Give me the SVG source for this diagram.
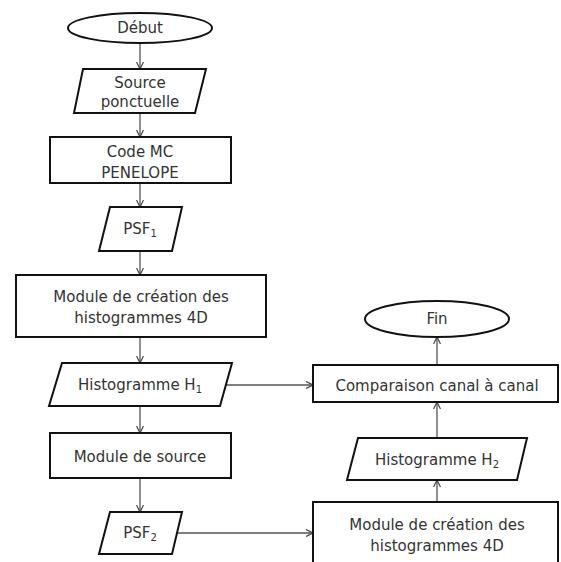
<svg xmlns="http://www.w3.org/2000/svg" width="561" height="562" viewBox="0 0 561 562">
<defs>
<marker id="arr" viewBox="0 0 8 8" refX="7.5" refY="4" markerWidth="8" markerHeight="8" markerUnits="userSpaceOnUse" orient="auto">
<path d="M0.5,0.5 L7.5,4 L0.5,7.5" fill="none" stroke="#444" stroke-width="1.2"/>
</marker>
<style>
.s{fill:#fff;stroke:#111;stroke-width:2}
.t{font-family:"DejaVu Sans","Liberation Sans",sans-serif;font-size:15px;fill:#333;text-anchor:middle}
.c{fill:none;stroke:#555;stroke-width:1.3}
</style>
</defs>
<rect width="561" height="562" fill="#fff"/>
<g id="connectors">
<line class="c" x1="140" y1="43" x2="140" y2="69" marker-end="url(#arr)"/>
<line class="c" x1="140" y1="113" x2="140" y2="137" marker-end="url(#arr)"/>
<line class="c" x1="140" y1="183" x2="140" y2="207" marker-end="url(#arr)"/>
<line class="c" x1="140" y1="251" x2="140" y2="275" marker-end="url(#arr)"/>
<line class="c" x1="140" y1="337" x2="140" y2="363" marker-end="url(#arr)"/>
<line class="c" x1="140" y1="406" x2="140" y2="433" marker-end="url(#arr)"/>
<line class="c" x1="140" y1="478" x2="140" y2="512" marker-end="url(#arr)"/>
<line class="c" x1="226" y1="385" x2="313" y2="385" marker-end="url(#arr)"/>
<line class="c" x1="177" y1="533" x2="313" y2="533" marker-end="url(#arr)"/>
<line class="c" x1="437" y1="502" x2="437" y2="480" marker-end="url(#arr)"/>
<line class="c" x1="437" y1="438" x2="437" y2="402" marker-end="url(#arr)"/>
<line class="c" x1="437" y1="365" x2="437" y2="337" marker-end="url(#arr)"/>
</g>
<g id="debut">
<ellipse class="s" cx="140" cy="28" rx="72" ry="15"/>
<text class="t" x="140" y="33">Début</text>
</g>
<g id="source">
<polygon class="s" points="83,69 206,69 195,113 74,113"/>
<text class="t" x="140" y="88">Source</text>
<text class="t" x="140" y="107">ponctuelle</text>
</g>
<g id="code-mc">
<rect class="s" x="50" y="137" width="181" height="46"/>
<text class="t" x="140" y="157">Code MC</text>
<text class="t" x="140" y="178">PENELOPE</text>
</g>
<g id="psf1">
<polygon class="s" points="110,207 182,207 172,251 99,251"/>
<text class="t" x="140" y="234">PSF<tspan font-size="10" dy="3">1</tspan></text>
</g>
<g id="module-creation-1">
<rect class="s" x="16" y="275" width="250" height="62"/>
<text class="t" x="141" y="302">Module de création des</text>
<text class="t" x="141" y="323">histogrammes 4D</text>
</g>
<g id="histogramme-h1">
<polygon class="s" points="62,363 232,363 220,406 49,406"/>
<text class="t" x="140" y="390">Histogramme H<tspan font-size="10" dy="3">1</tspan></text>
</g>
<g id="module-source">
<rect class="s" x="50" y="433" width="181" height="45"/>
<text class="t" x="140" y="462">Module de source</text>
</g>
<g id="psf2">
<polygon class="s" points="110,512 182,512 172,554 99,554"/>
<text class="t" x="140" y="538">PSF<tspan font-size="10" dy="3">2</tspan></text>
</g>
<g id="fin">
<ellipse class="s" cx="437" cy="319" rx="72" ry="18"/>
<text class="t" x="437" y="324">Fin</text>
</g>
<g id="comparaison">
<rect class="s" x="313" y="365" width="245" height="37"/>
<text class="t" x="437" y="391">Comparaison canal à canal</text>
</g>
<g id="histogramme-h2">
<polygon class="s" points="358,438 527,438 517,480 347,480"/>
<text class="t" x="437" y="465">Histogramme H<tspan font-size="10" dy="3">2</tspan></text>
</g>
<g id="module-creation-2">
<rect class="s" x="313" y="502" width="245" height="70"/>
<text class="t" x="437" y="530">Module de création des</text>
<text class="t" x="437" y="551">histogrammes 4D</text>
</g>
</svg>
